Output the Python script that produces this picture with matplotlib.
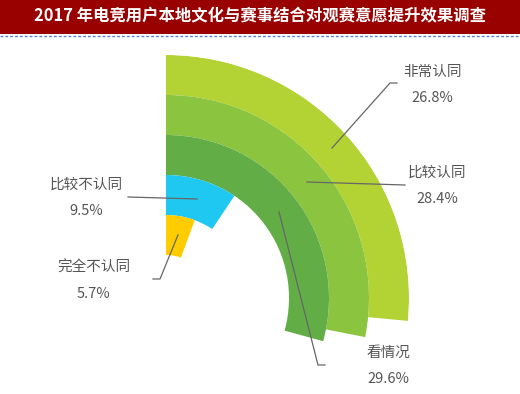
import numpy as np
import matplotlib.pyplot as plt

plt.rcParams['font.family'] = ['Noto Sans CJK SC', 'DejaVu Sans']

# data, outer ring to inner ring
labels = ['非常认同', '比较认同', '看情况', '比较不认同', '完全不认同']
values = [26.8, 28.4, 29.6, 9.5, 5.7]
colors = ['#b3d234', '#8bc43f', '#63ad46', '#1ec8f0', '#ffcc00']

W, H = 520, 394
cx, cy = 166, 394 - 298      # ring centre in figure pixels (y up)
r_out, ring = 243, 40
deg_per_pct = 3.56

fig = plt.figure(figsize=(W / 100, H / 100), dpi=100)

# polar axes sized so that 1 radial unit = 1 pixel
ax = fig.add_axes([(cx - r_out) / W, (cy - r_out) / H, 2 * r_out / W, 2 * r_out / H],
                  projection='polar')
ax.set_theta_zero_location('N')
ax.set_theta_direction(-1)
ax.set_ylim(0, r_out)
ax.axis('off')

bottoms = [r_out - ring * (i + 1) for i in range(len(values))]
ax.bar(0, ring, width=np.deg2rad(np.array(values) * deg_per_pct), bottom=bottoms,
       color=colors, align='edge', linewidth=0)

# overlay axes in pixel coords for title and labels
ov = fig.add_axes([0, 0, 1, 1])
ov.set_xlim(0, W)
ov.set_ylim(H, 0)
ov.axis('off')

ov.add_patch(plt.Rectangle((0, 0), W, 34, color='#990000', lw=0))
ov.text(W / 2, 16, '2017 年电竞用户本地文化与赛事结合对观赛意愿提升效果调查',
        color='white', fontsize=11.8, fontweight='bold', ha='center', va='center')
ov.plot([0, W], [35.5, 35.5], color='#5b7fd6', lw=1, ls=(0, (2, 1.5)))

# label text positions and leader lines (pixel coords)
txt_pos = [(432, 72), (437, 173), (388, 353), (86, 185), (94, 268)]
leaders = [
    [(332, 148), (390, 83), (397, 83)],
    [(307, 182), (405, 185)],
    [(279, 212), (318, 365), (325, 365)],
    [(197, 199), (128, 197)],
    [(178, 235), (160, 279), (153, 279)],
]
for lab, val, (tx, ty), pts in zip(labels, values, txt_pos, leaders):
    xs, ys = zip(*pts)
    ov.plot(xs, ys, color='#666666', lw=0.9)
    ov.text(tx, ty, lab, color='#555555', fontsize=10.5, ha='center', va='center')
    ov.text(tx, ty + 26, f'{val}%', color='#555555', fontsize=10.5,
            ha='center', va='center')

fig.savefig('out.png', dpi=100)
